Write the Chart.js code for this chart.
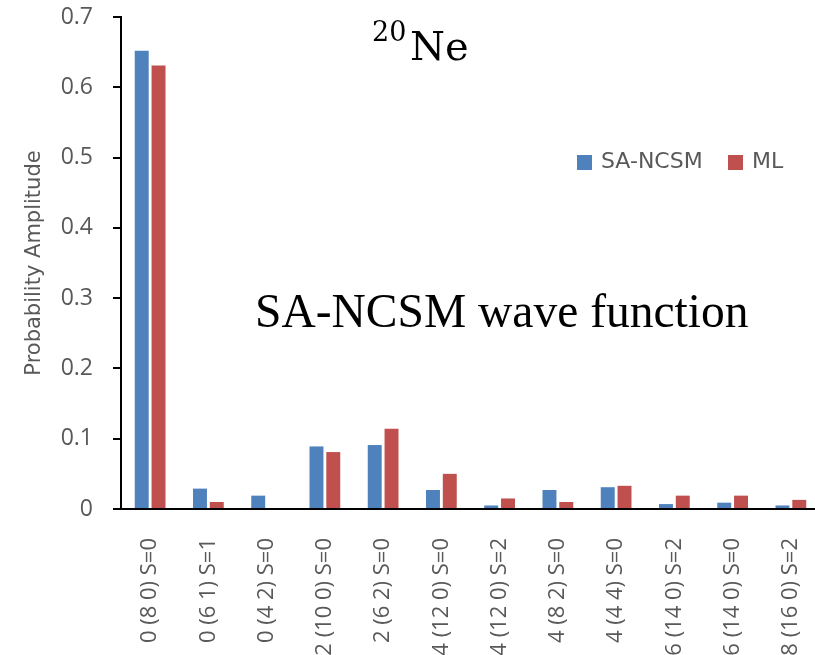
<!DOCTYPE html>
<html>
<head>
<meta charset="utf-8">
<script src="https://cdn.jsdelivr.net/npm/chart.js@4.4.1/dist/chart.umd.min.js"></script>
<style>
  html, body { margin: 0; padding: 0; background: #fff; overflow: hidden; width: 815px; height: 655px; }
  canvas { display: block; }
</style>
</head>
<body>
<canvas id="c" width="822" height="655"></canvas>
<script>
const categories = ["0 (8 0) S=0", "0 (6 1) S=1", "0 (4 2) S=0", "2 (10 0) S=0", "2 (6 2) S=0", "4 (12 0) S=0",
                    "4 (12 0) S=2", "4 (8 2) S=0", "4 (4 4) S=0", "6 (14 0) S=2", "6 (14 0) S=0", "8 (16 0) S=2"];
const saNcsm = [0.652, 0.029, 0.019, 0.089, 0.091, 0.027, 0.005, 0.027, 0.031, 0.007, 0.009, 0.005];
const ml     = [0.631, 0.010, 0.000, 0.081, 0.114, 0.050, 0.015, 0.010, 0.033, 0.019, 0.019, 0.013];
const yTicks = [0, 0.1, 0.2, 0.3, 0.4, 0.5, 0.6, 0.7];
const seriesNames = ["SA-NCSM", "ML"];
const nucleusMass = "20";
const nucleusName = "Ne";
const caption = "SA-NCSM wave function";

const GREY = "#595959";

const overlay = {
  id: "overlay",
  afterDraw(chart) {
    const ctx = chart.ctx;
    ctx.save();
    // Legend
    ctx.textBaseline = "middle";
    ctx.textAlign = "left";
    ctx.font = "22px 'DejaVu Sans'";
    const legendPos = [{ box: 577, text: 601 }, { box: 728, text: 752 }];
    chart.data.datasets.forEach((ds, i) => {
      ctx.fillStyle = ds.backgroundColor;
      ctx.fillRect(legendPos[i].box, 155, 15, 15);
      ctx.fillStyle = GREY;
      ctx.fillText(ds.label, legendPos[i].text, 162);
    });
    // Nucleus label
    ctx.textBaseline = "alphabetic";
    ctx.fillStyle = "#000";
    ctx.font = "27px 'DejaVu Serif'";
    ctx.fillText(nucleusMass, 372, 41);
    ctx.font = "40px 'DejaVu Serif'";
    ctx.fillText(nucleusName, 410, 60);
    // Caption
    ctx.font = "47.5px 'Liberation Serif'";
    ctx.fillText(caption, 255, 327);
    ctx.restore();
  }
};

new Chart(document.getElementById("c"), {
  type: "bar",
  data: {
    labels: categories,
    datasets: [
      { label: seriesNames[0], data: saNcsm, backgroundColor: "#4F81BD" },
      { label: seriesNames[1], data: ml, backgroundColor: "#C0504D" }
    ]
  },
  options: {
    responsive: false,
    animation: false,
    devicePixelRatio: 1,
    categoryPercentage: 0.577,
    barPercentage: 0.83,
    layout: { padding: { top: 17, right: 2, bottom: 0, left: 0 } },
    plugins: { legend: { display: false }, tooltip: { enabled: false } },
    scales: {
      x: {
        grid: { display: false },
        border: { display: true, color: "#000", width: 2 },
        ticks: {
          color: GREY,
          font: { family: "Open Sans", size: 22 },
          minRotation: 90, maxRotation: 90,
          autoSkip: false,
          padding: 21
        },
        afterFit(scale) { scale.height = 146; scale.paddingLeft = 0; scale.paddingRight = 0; }
      },
      y: {
        min: 0, max: 0.7,
        afterBuildTicks(scale) { scale.ticks = yTicks.map(v => ({ value: v })); },
        grid: { display: true, drawOnChartArea: false, drawTicks: true, tickLength: 8, color: "#000", lineWidth: 2 },
        border: { display: true, color: "#000", width: 2 },
        ticks: {
          color: GREY,
          font: { family: "Open Sans", size: 23 },
          padding: 20,
          callback: v => String(Math.round(v * 10) / 10)
        },
        title: {
          display: true,
          text: "Probability Amplitude",
          color: GREY,
          font: { family: "DejaVu Sans", size: 21 },
          padding: { top: 22, bottom: 0 }
        },
        afterFit(scale) { scale.width = 121; scale.paddingTop = 0; scale.paddingBottom = 0; }
      }
    }
  },
  plugins: [overlay]
});
</script>
</body>
</html>
